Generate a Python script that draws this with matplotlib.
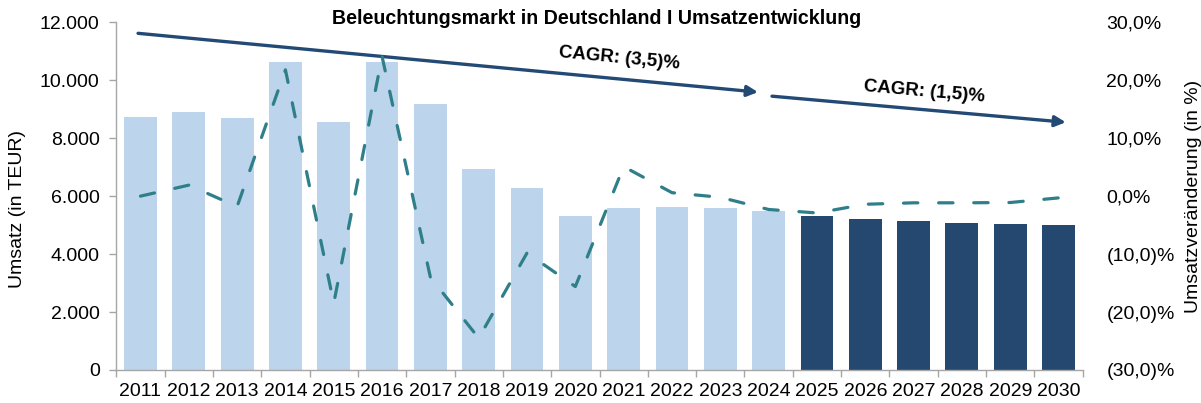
import matplotlib
matplotlib.use("Agg")
import matplotlib.pyplot as plt
from matplotlib.ticker import FuncFormatter, FixedLocator
import numpy as np

plt.rcParams['font.family'] = ['Liberation Sans', 'DejaVu Sans']

# ---- data ----
years = ['2011', '2012', '2013', '2014', '2015', '2016', '2017', '2018', '2019', '2020',
         '2021', '2022', '2023', '2024', '2025', '2026', '2027', '2028', '2029', '2030']
umsatz = [8720, 8900, 8710, 10620, 8550, 10620, 9170, 6930, 6280, 5310,
          5590, 5620, 5590, 5480, 5310, 5210, 5140, 5070, 5030, 5000]
veraenderung = [0.0, 1.9, -1.8, 21.8, -18.5, 24.1, -14.0, -24.5, -9.8, -15.6,
                5.1, 0.6, -0.2, -2.3, -2.9, -1.4, -1.15, -1.15, -1.1, -0.3]
forecast_from = '2025'
left_ticks = [0, 2000, 4000, 6000, 8000, 10000, 12000]
right_ticks = [-30, -20, -10, 0, 10, 20, 30]
title = 'Beleuchtungsmarkt in Deutschland I Umsatzentwicklung'
cagr_labels = ['CAGR: (3,5)%', 'CAGR: (1,5)%']

# ---- styles ----
light = '#BDD5EC'
dark = '#244870'
arrow_c = '#234A74'
line_c = '#2F7F8A'
grey = '#A6A6A6'

W, H = 1201, 403
fig = plt.figure(figsize=(W / 100, H / 100), dpi=100)
ax = fig.add_axes([116.3 / W, 1 - 370 / H, (1082.7 - 116.3) / W, (370 - 22.3) / H])
ax2 = ax.twinx()

x = np.arange(len(years))
fi = years.index(forecast_from)
colors = [light if i < fi else dark for i in range(len(years))]
ax.bar(x, umsatz, width=0.68, color=colors, zorder=2)
ax.set_xlim(-0.5, len(years) - 0.5)
ax.set_ylim(0, 12000)
ax.set_yticks(left_ticks)
ax.yaxis.set_major_formatter(FuncFormatter(lambda v, p: f"{int(v):,}".replace(',', '.')))
ax.set_xticks(x)
ax.set_xticklabels(years)
ax.xaxis.set_minor_locator(FixedLocator(np.arange(-0.5, len(years), 1.0)))
ax.tick_params(axis='x', which='major', length=0, pad=9, labelsize=14, colors='black')
ax.tick_params(axis='x', which='minor', length=5, width=1, color=grey)
ax.tick_params(axis='y', length=5, width=1, color=grey, labelsize=14, pad=7)
for s in ['top', 'right']:
    ax.spines[s].set_visible(False)
for s in ['left', 'bottom']:
    ax.spines[s].set_color(grey)
    ax.spines[s].set_linewidth(1)

ax2.plot(x, veraenderung, color=line_c, lw=2.3, dashes=(4.5, 6.5),
         dash_capstyle='round', solid_capstyle='round', zorder=3)
ax2.set_ylim(-30, 30)
ax2.set_yticks(right_ticks)


def pct(v, p):
    s = f"{abs(v):.1f}".replace('.', ',')
    return f"({s})%" if v < 0 else f"{s}%"


ax2.yaxis.set_major_formatter(FuncFormatter(pct))
ax2.tick_params(axis='y', length=0, labelsize=14, pad=17)
for s in ['top', 'right', 'left', 'bottom']:
    ax2.spines[s].set_visible(False)

# CAGR arrows (annotations)
arrows = [((-0.05, 11620), (12.78, 9590)), ((13.07, 9450), (19.15, 8550))]
for (x0, y0), (x1, y1) in arrows:
    ax.annotate('', xy=(x1, y1), xytext=(x0, y0),
                arrowprops=dict(arrowstyle='-|>', color=arrow_c, lw=2.4,
                                mutation_scale=16, shrinkA=0, shrinkB=0),
                zorder=5, annotation_clip=False)
ax.text(9.91, 10760, cagr_labels[0], rotation=-5.5, rotation_mode='anchor',
        ha='center', va='center', fontsize=13.5, fontweight='bold', zorder=6)
ax.text(16.23, 9590, cagr_labels[1], rotation=-5.0, rotation_mode='anchor',
        ha='center', va='center', fontsize=13.5, fontweight='bold', zorder=6)

fig.text(597 / W, 1 - 19 / H, title, ha='center', va='center',
         fontsize=14.1, fontweight='bold')
fig.text(18 / W, 1 - 209 / H, 'Umsatz (in TEUR)', rotation=90, ha='center',
         va='center', fontsize=14)
fig.text(1193 / W, 1 - 196 / H, 'Umsatzveränderung (in %)', rotation=90,
         ha='center', va='center', fontsize=14)

fig.savefig('out.png', dpi=100)
